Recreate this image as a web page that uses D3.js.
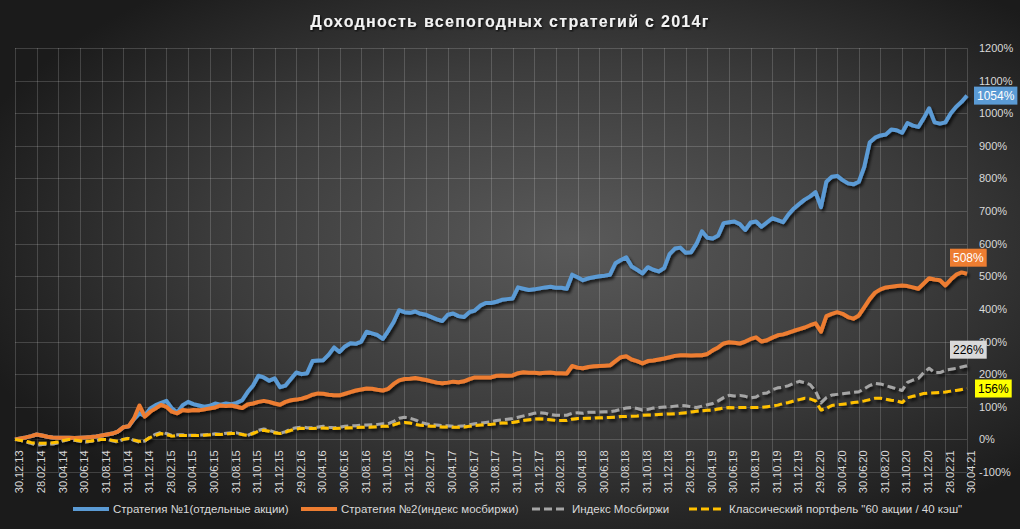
<!DOCTYPE html>
<html>
<head>
<meta charset="utf-8">
<script src="https://cdn.jsdelivr.net/npm/d3@7"></script>
<style>
  body { margin: 0; background: #1c1c1c; }
  svg { display: block; font-family: "Liberation Sans", Arial, sans-serif; }
</style>
</head>
<body>
<div id="chart"></div>
<script>
// подписи оси X (каждые 2 месяца)
const tickLabels = ["30.12.13","28.02.14","30.04.14","30.06.14","31.08.14","31.10.14","31.12.14",
  "28.02.15","30.04.15","30.06.15","31.08.15","31.10.15","31.12.15","29.02.16","30.04.16","30.06.16",
  "31.08.16","31.10.16","31.12.16","28.02.17","30.04.17","30.06.17","31.08.17","31.10.17","31.12.17",
  "28.02.18","30.04.18","30.06.18","31.08.18","31.10.18","31.12.18","28.02.19","30.04.19","30.06.19",
  "31.08.19","31.10.19","31.12.19","29.02.20","30.04.20","30.06.20","31.08.20","31.10.20","31.12.20",
  "28.02.21","30.04.21"];

const yTicks = [-100,0,100,200,300,400,500,600,700,800,900,1000,1100,1200];

// значения (%), шаг ~ полмесяца
const strat1 = [0,3,6,10,15,12,8,6,5,5,5,4,5,6,7,9,12,15,18,24,37,40,62,80,72,95,105,112,118,95,
  82,105,115,108,104,100,103,110,106,110,108,112,120,145,165,195,190,180,187,160,
  165,185,205,200,203,240,242,243,260,282,268,285,295,293,300,330,325,320,308,333,
  360,396,390,388,392,385,382,375,368,363,382,386,378,375,390,395,410,418,418,422,
  428,430,432,466,462,458,460,463,466,468,465,465,462,505,497,488,494,497,500,502,
  505,540,550,558,530,520,509,528,520,515,525,568,585,588,572,574,600,638,618,616,
  625,663,666,668,660,642,665,668,652,665,678,672,666,690,708,722,735,745,758,712,
  790,805,808,795,785,782,790,835,910,925,932,935,950,948,940,970,962,958,985,1015,
  972,968,972,1000,1020,1035,1054];

const strat2 = [0,3,6,10,15,12,8,6,5,5,5,4,5,6,7,9,12,15,18,24,37,40,64,104,70,85,95,106,100,85,
  80,90,88,90,89,92,95,98,104,102,104,100,96,107,110,115,118,115,110,106,
  115,120,122,125,130,137,141,140,137,135,135,140,145,150,153,156,155,152,150,155,
  170,181,185,186,188,185,182,178,174,172,174,177,175,178,185,190,190,190,190,195,
  196,195,196,203,206,204,204,203,204,205,203,203,202,225,220,218,222,224,225,226,
  227,240,252,255,245,240,233,240,242,245,248,252,256,258,258,257,258,258,262,273,
  282,294,298,296,294,300,308,313,300,304,312,319,322,327,333,338,343,350,356,330,
  378,385,390,385,375,370,380,405,430,450,460,466,468,470,472,470,466,462,478,494,
  490,488,472,490,505,512,508];

const moex = [0,-3,-8,-12,-18,-16,-15,-14,-10,-4,0,-3,-6,-8,-6,-3,0,0,-4,-8,0,4,-3,-8,-5,8,16,22,18,12,
  14,14,13,13,13,14,15,17,16,19,20,20,16,12,20,28,32,28,22,18,
  24,32,36,38,36,36,38,40,37,36,38,40,42,42,44,44,45,46,48,48,
  55,65,68,65,60,52,48,45,44,42,42,40,40,42,45,48,50,52,54,58,
  60,62,64,68,72,76,80,82,80,76,74,74,74,80,82,80,83,83,84,85,
  85,88,92,96,98,95,90,92,96,98,99,100,102,104,103,100,98,102,106,110,
  118,128,135,133,135,132,127,130,140,142,152,158,160,165,172,178,174,168,148,112,
  128,136,138,140,142,144,146,155,165,172,170,165,160,155,150,175,182,187,205,218,
  205,205,212,215,218,222,226];

const classic = [0,-3,-6,-10,-12,-12,-12,-10,-8,-3,0,-2,-4,-6,-5,-3,0,0,-3,-6,0,3,-2,-6,-4,6,12,18,15,10,
  12,12,12,12,12,13,14,15,15,17,18,18,15,12,18,25,28,25,20,18,
  22,28,32,34,33,33,34,35,34,33,34,35,36,36,37,37,38,39,40,40,
  45,50,52,50,46,43,42,40,40,38,38,37,37,38,40,42,44,45,46,48,
  50,50,52,55,58,60,62,63,62,60,58,58,58,62,64,64,65,65,66,67,
  67,68,70,70,71,72,74,75,75,76,77,78,79,80,82,84,86,88,89,90,
  93,96,98,97,98,98,98,98,98,100,102,105,110,113,118,122,126,124,118,90,
  95,104,106,108,110,113,115,118,122,126,126,123,120,118,113,128,132,136,141,142,
  143,144,145,148,150,153,156];

const seriesNames = ["Стратегия №1(отдельные акции)", "Стратегия №2(индекс мосбиржи)",
  "Индекс Мосбиржи", "Классический портфель \"60 акции / 40 кэш\""];

const W = 1020, H = 529;
const svg = d3.select("#chart").append("svg").attr("width", W).attr("height", H);

const defs = svg.append("defs");
const grad = defs.append("radialGradient").attr("id", "bg")
  .attr("cx", "56%").attr("cy", "46%").attr("r", "62%");
grad.append("stop").attr("offset", "0%").attr("stop-color", "#5a5a5a");
grad.append("stop").attr("offset", "55%").attr("stop-color", "#3c3c3c");
grad.append("stop").attr("offset", "100%").attr("stop-color", "#1b1b1b");

const shadow = defs.append("filter").attr("id", "shadow")
  .attr("x", "-5%").attr("y", "-5%").attr("width", "110%").attr("height", "120%");
shadow.append("feDropShadow").attr("dx", 2).attr("dy", 2.5).attr("stdDeviation", 1.6)
  .attr("flood-color", "#000").attr("flood-opacity", 0.75);

const tshadow = defs.append("filter").attr("id", "tshadow");
tshadow.append("feDropShadow").attr("dx", 1).attr("dy", 1.5).attr("stdDeviation", 1)
  .attr("flood-color", "#000").attr("flood-opacity", 0.9);

svg.append("rect").attr("width", W).attr("height", H).attr("fill", "url(#bg)");

const n = strat1.length;
const x = d3.scaleLinear().domain([0, n - 1]).range([15, 967]);
const y = d3.scaleLinear().domain([-100, 1200]).range([472, 48]);
const step = (n - 1) / (tickLabels.length - 1);

// сетка
const grid = svg.append("g").attr("stroke", "#ffffff").attr("stroke-opacity", 0.17).attr("stroke-width", 1);
yTicks.forEach(t => {
  grid.append("line").attr("x1", x(0)).attr("x2", x(n - 1))
    .attr("y1", Math.round(y(t)) + 0.5).attr("y2", Math.round(y(t)) + 0.5);
});
tickLabels.forEach((d, i) => {
  const xx = Math.round(x(i * step)) + 0.5;
  grid.append("line").attr("x1", xx).attr("x2", xx).attr("y1", y(1200)).attr("y2", y(-100));
});

// ось Y справа
const yAxis = svg.append("g")
  .attr("transform", "translate(" + x(n - 1) + ",0)")
  .call(d3.axisRight(y).tickValues(yTicks).tickSize(0).tickPadding(12).tickFormat(d => d + "%"));
yAxis.select(".domain").remove();
yAxis.selectAll("text").attr("fill", "#d9d9d9").style("font-size", "11px");

// ось X
const xAxis = svg.append("g")
  .attr("transform", "translate(0," + y(0) + ")")
  .call(d3.axisBottom(x).tickValues(d3.range(0, n, step)).tickSize(0)
    .tickFormat((d, i) => tickLabels[i]));
xAxis.select(".domain").remove();
xAxis.selectAll("text")
  .attr("fill", "#d9d9d9").style("font-size", "11px")
  .attr("text-anchor", "end")
  .attr("transform", "translate(4,11) rotate(-90)")
  .attr("x", 0).attr("y", 0).attr("dy", "0.35em");

// линии
const line = d3.line().x((d, i) => x(i)).y(d => y(d));
const series = [
  { values: strat1, color: "#5b9bd5", dash: null, width: 4 },
  { values: strat2, color: "#ed7d31", dash: null, width: 4 },
  { values: moex, color: "#a5a5a5", dash: "8,4", width: 3 },
  { values: classic, color: "#ffc000", dash: "8,4", width: 3 }
];
const lines = svg.append("g").attr("filter", "url(#shadow)");
series.forEach(s => {
  lines.append("path").datum(s.values)
    .attr("d", line)
    .attr("fill", "none")
    .attr("stroke", s.color)
    .attr("stroke-width", s.width)
    .attr("stroke-linejoin", "round")
    .attr("stroke-dasharray", s.dash);
});

// подписи последних значений
const endLabels = [
  { v: strat1[n - 1], fill: "#5b9bd5", text: "#ffffff", dx: 7, dy: 0 },
  { v: strat2[n - 1], fill: "#ed7d31", text: "#ffffff", dx: -17, dy: -16 },
  { v: moex[n - 1], fill: "#d9d9d9", text: "#000000", dx: -17, dy: -16 },
  { v: classic[n - 1], fill: "#ffff00", text: "#000000", dx: 8, dy: 0 }
];
endLabels.forEach(l => {
  const g = svg.append("g")
    .attr("transform", "translate(" + (x(n - 1) + l.dx) + "," + (y(l.v) + l.dy) + ")");
  const t = g.append("text").text(l.v + "%")
    .attr("x", 3).attr("dy", "0.35em")
    .attr("fill", l.text).style("font-size", "12px");
  const w = t.node().getComputedTextLength() + 6;
  g.insert("rect", "text").attr("x", 0).attr("y", -9).attr("width", w).attr("height", 18)
    .attr("fill", l.fill);
});

// заголовок
svg.append("text")
  .attr("x", 510).attr("y", 27)
  .attr("text-anchor", "middle")
  .attr("fill", "#f2f2f2")
  .attr("filter", "url(#tshadow)")
  .style("font-size", "16px").style("font-weight", "bold").style("letter-spacing", "1.3px")
  .text("Доходность всепогодных стратегий с 2014г");

// легенда
const legendX = [73, 301, 532, 689];
const legend = svg.append("g").attr("transform", "translate(0,509)");
series.forEach((s, i) => {
  legend.append("line")
    .attr("x1", legendX[i]).attr("x2", legendX[i] + 36)
    .attr("y1", 0).attr("y2", 0)
    .attr("stroke", s.color).attr("stroke-width", s.width)
    .attr("stroke-dasharray", s.dash);
  legend.append("text")
    .attr("x", legendX[i] + 40).attr("y", 0).attr("dy", "0.35em")
    .attr("fill", "#d9d9d9").style("font-size", "11.5px")
    .text(seriesNames[i]);
});
</script>
</body>
</html>
